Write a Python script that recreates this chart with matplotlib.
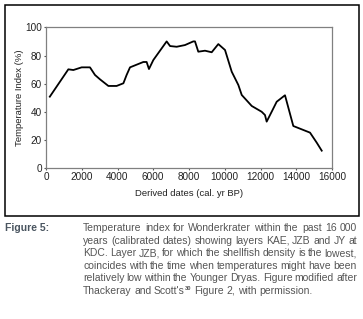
import matplotlib
matplotlib.use("Agg")
import matplotlib.pyplot as plt
from matplotlib.patches import Rectangle
from matplotlib import font_manager

# ---- data ----
years = [213, 1250, 1530, 1995, 2460, 2740, 3020, 3490, 3950, 4330, 4510, 4700,
         5445, 5630, 5760, 6005, 6750, 6940, 7310, 7775, 8240, 8335, 8520, 8895,
         9270, 9640, 10015, 10390, 10760, 10950, 11510, 12065, 12250, 12345,
         12625, 12905, 13370, 13835, 14770, 15145, 15425]
temp = [50.8, 70.2, 69.7, 71.6, 71.6, 66.2, 63.1, 58.4, 58.4, 60.3, 66.2, 71.6,
        75.4, 75.4, 70.4, 76.8, 90.0, 86.7, 86.2, 87.4, 90.0, 90.0, 82.7, 83.4,
        82.3, 88.1, 83.9, 68.5, 59.1, 52.0, 44.2, 40.1, 37.8, 33.1,
        40.1, 47.2, 51.8, 30.0, 25.3, 18.2, 12.5]
xticks = [0, 2000, 4000, 6000, 8000, 10000, 12000, 14000, 16000]
yticks = [0, 20, 40, 60, 80, 100]
xlabel = "Derived dates (cal. yr BP)"
ylabel = "Temperature Index (%)"
caption_head = "Figure 5:"
caption_lines = [
    "Temperature index for Wonderkrater within the past 16 000",
    "years (calibrated dates) showing layers KAE, JZB and JY at",
    "KDC. Layer JZB, for which the shellfish density is the lowest,",
    "coincides with the time when temperatures might have been",
    "relatively low within the Younger Dryas. Figure modified after",
    "Thackeray and Scott's\u00b3\u2070 Figure 2, with permission.",
]

W, H = 363, 319
fig = plt.figure(figsize=(W / 100, H / 100), dpi=100)
plt.rcParams['font.family'] = ['Liberation Sans', 'DejaVu Sans']

names = {f.name for f in font_manager.fontManager.ttflist}
narrow = 'Liberation Sans Narrow' if 'Liberation Sans Narrow' in names else 'Liberation Sans'

def px(x, y):
    return x / W, 1 - y / H

# outer box
fig.patches.append(Rectangle(px(4.5, 216), 354.5 / W, 211.5 / H, transform=fig.transFigure,
                             fill=False, edgecolor='black', linewidth=1.1))

l, b = px(46, 168.3)
r, t = px(332, 27.3)
ax = fig.add_axes([l, b, r - l, t - b])
ax.plot(years, temp, color='black', linewidth=1.3)
ax.set_xlim(0, 16000)
ax.set_ylim(0, 100)
ax.set_xticks(xticks)
ax.set_yticks(yticks)
ax.set_xticklabels([str(v) for v in xticks])
ax.set_yticklabels([str(v) for v in yticks])
ax.tick_params(labelsize=7.2, length=1.5, width=0.8, color='#555555', pad=1.5,
               labelcolor='#222222')
for s in ax.spines.values():
    s.set_color('#808080')
    s.set_linewidth(0.9)

fx, fy = px(189, 194)
fig.text(fx, fy, xlabel, ha='center', va='center', fontsize=6.8, color='#222222')
fx, fy = px(19.5, 97.5)
fig.text(fx, fy, ylabel, ha='center', va='center', rotation=90, fontsize=6.8, color='#222222')

# caption
fig.canvas.draw()
renderer = fig.canvas.get_renderer()
cap_color = '#555555'
cap_fs = 7.5
x0, x1 = 83, 357
y_lines = [228.3, 240.8, 253.3, 265.8, 278.3, 290.8]

def width_px(s, fs):
    tt = fig.text(0, 0, s, fontsize=fs, family=[narrow, 'DejaVu Sans'])
    w = tt.get_window_extent(renderer=renderer).width
    tt.remove()
    return w

hx, hy = px(5, y_lines[0])
fig.text(hx, hy, caption_head, ha='left', va='center', fontsize=cap_fs,
         fontweight='bold', family=[narrow, 'DejaVu Sans'], color='#4a5560')

space_w = 2.6
for i, line in enumerate(caption_lines):
    words = line.split(" ")
    last = (i == len(caption_lines) - 1)
    ws = [width_px(w.replace("\u00b3\u2070", ""), cap_fs) for w in words]
    if last:
        gap = space_w
    else:
        gap = max(((x1 - x0) - sum(ws)) / (len(words) - 1), 1.5)
    x = x0
    for w, wd in zip(words, ws):
        tx, ty = px(x, y_lines[i])
        if "\u00b3" in w:
            base = w.replace("\u00b3\u2070", "")
            fig.text(tx, ty, base, ha='left', va='center', fontsize=cap_fs,
                     family=[narrow, 'DejaVu Sans'], color=cap_color)
            sx, sy = px(x + wd + 0.3, y_lines[i] - 2.8)
            fig.text(sx, sy, "30", ha='left', va='center', fontsize=cap_fs * 0.55,
                     fontweight='bold', family=[narrow, 'DejaVu Sans'], color=cap_color)
            wd = wd + width_px("30", cap_fs * 0.55) + 0.5
        else:
            fig.text(tx, ty, w, ha='left', va='center', fontsize=cap_fs,
                     family=[narrow, 'DejaVu Sans'], color=cap_color)
        x += wd + gap

fig.savefig("out.png", dpi=100)
